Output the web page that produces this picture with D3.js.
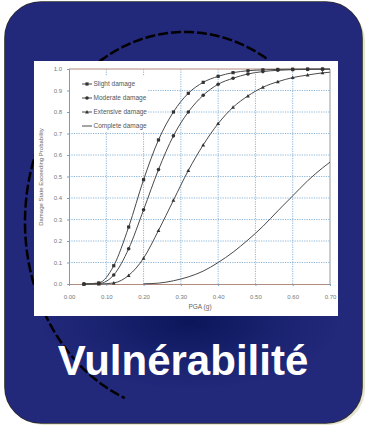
<!DOCTYPE html>
<html><head><meta charset="utf-8">
<script src="https://cdn.jsdelivr.net/npm/d3@7/dist/d3.min.js"></script>
<style>html,body{margin:0;padding:0;background:#fff;}svg{display:block;}</style>
</head><body>
<script>
const xs = [0.04,0.08,0.12,0.16,0.20,0.24,0.28,0.32,0.36,0.40,0.44,0.48,0.52,0.56,0.60,0.64,0.68,0.70];
const slight    = [0,0.005,0.085,0.265,0.485,0.67,0.80,0.887,0.938,0.966,0.983,0.992,0.996,0.998,0.999,1.0,1.0,1.0];
const moderate  = [0,0.002,0.042,0.164,0.345,0.532,0.689,0.80,0.878,0.929,0.957,0.977,0.988,0.994,0.997,0.998,0.999,0.999];
const extensive = [0,0.0,0.005,0.04,0.12,0.249,0.389,0.528,0.647,0.746,0.822,0.875,0.915,0.941,0.96,0.972,0.982,0.985];
const completeX = [0.20,0.24,0.28,0.32,0.36,0.40,0.44,0.48,0.52,0.56,0.60,0.64,0.68,0.70];
const complete  = [0.001,0.004,0.015,0.033,0.06,0.10,0.148,0.205,0.268,0.34,0.41,0.48,0.54,0.567];
const seriesNames = ["Slight damage","Moderate damage","Extensive damage","Complete damage"];
const markerTypes = ["square","circle","triangle","none"];
const xTicks = [0,0.1,0.2,0.3,0.4,0.5,0.6,0.7];
const yTicks = [0,0.1,0.2,0.3,0.4,0.5,0.6,0.7,0.8,0.9,1.0];
const title = "Vulnérabilité";

const W=366,H=425;
const svg=d3.select("body").append("svg").attr("width",W).attr("height",H);
const defs=svg.append("defs");
const rg=defs.append("radialGradient").attr("id","rg").attr("gradientUnits","userSpaceOnUse")
  .attr("cx",190).attr("cy",322).attr("r",150).attr("gradientTransform","translate(190,322) scale(1,0.45) translate(-190,-322)");
rg.append("stop").attr("offset","0").attr("stop-color","#0b165a");
rg.append("stop").attr("offset","0.6").attr("stop-color","#1a2370");
rg.append("stop").attr("offset","1").attr("stop-color","#22287a");
defs.append("clipPath").attr("id","panelclip").append("rect")
  .attr("x",5).attr("y",2).attr("width",357).attr("height",421).attr("rx",36);

// shadow + panel
svg.append("rect").attr("x",8).attr("y",5).attr("width",357).attr("height",420).attr("rx",36).attr("fill","#e6e4cf");
svg.append("rect").attr("x",5).attr("y",2).attr("width",357).attr("height",421).attr("rx",36)
  .attr("fill","#22287a").attr("stroke","#2b2b2b").attr("stroke-width",1.6);
svg.append("g").attr("clip-path","url(#panelclip)").append("rect")
  .attr("x",5).attr("y",2).attr("width",357).attr("height",421).attr("fill","url(#rg)");

// decorative dashed ellipse arc
const arc=d3.path();
const cx=185,cy=222,rx=160,ry=190;
let first=true;
for(let t=-0.33*Math.PI; t>=-1.38*Math.PI; t-=0.01){
  const px=cx+rx*Math.cos(t), py=cy+ry*Math.sin(t);
  if(first){arc.moveTo(px,py);first=false;} else arc.lineTo(px,py);
}
svg.append("path").attr("d",arc.toString()).attr("fill","none").attr("stroke","#000")
  .attr("stroke-width",2.5).attr("stroke-dasharray","10,3");

// chart panel
svg.append("rect").attr("x",34).attr("y",61).attr("width",304).attr("height",255).attr("fill","#fff");

const x=d3.scaleLinear().domain([0,0.7]).range([69,330]);
const y=d3.scaleLinear().domain([0,1]).range([284,69]);
const g=svg.append("g");

// grid
const gridColor="#6fa3cf";
g.selectAll(".vg").data(xTicks.filter(d=>d>0&&d<0.7)).enter().append("line")
  .attr("x1",d=>x(d)).attr("x2",d=>x(d)).attr("y1",y(0)).attr("y2",y(1))
  .attr("stroke",gridColor).attr("stroke-width",0.8).attr("stroke-dasharray","1.2,1.2");
g.selectAll(".hg").data(yTicks.filter(d=>d>0&&d<1)).enter().append("line")
  .attr("x1",x(0)).attr("x2",x(0.7)).attr("y1",d=>y(d)).attr("y2",d=>y(d))
  .attr("stroke",gridColor).attr("stroke-width",0.8).attr("stroke-dasharray","1.2,1.2");

// legend background
g.append("rect").attr("x",70).attr("y",76).attr("width",77).attr("height",56).attr("fill","#fff");

// axes
const axisColor="#b08a7e";
const xa=g.append("g").attr("transform",`translate(0,${y(0)})`)
  .call(d3.axisBottom(x).tickValues(xTicks).tickFormat(d3.format(".2f")).tickSize(2).tickPadding(9));
const ya=g.append("g").attr("transform",`translate(${x(0)},0)`)
  .call(d3.axisLeft(y).tickValues(yTicks).tickFormat(d3.format(".1f")).tickSize(2).tickPadding(5));
[xa,ya].forEach(a=>{
  a.select(".domain").attr("stroke",axisColor).attr("stroke-width",1);
  a.selectAll(".tick line").attr("stroke",gridColor);
  a.selectAll("text").attr("fill","#777").attr("font-size","6px").attr("font-family","Liberation Sans, Arial, sans-serif");
});
// frame top/right
g.append("line").attr("x1",x(0)).attr("x2",x(0.7)).attr("y1",y(1)).attr("y2",y(1)).attr("stroke",axisColor);
g.append("line").attr("x1",x(0.7)).attr("x2",x(0.7)).attr("y1",y(1)).attr("y2",y(0)).attr("stroke","#999");

// labels
g.append("text").attr("x",200).attr("y",309).attr("text-anchor","middle").attr("font-size","6.5px")
  .attr("fill","#666").attr("font-family","Liberation Sans, Arial, sans-serif").text("PGA (g)");
g.append("text").attr("transform","translate(43,177) rotate(-90)").attr("text-anchor","middle").attr("font-size","6px")
  .attr("fill","#666").attr("font-family","Liberation Sans, Arial, sans-serif").text("Damage State Exceeding Probability");

// curves
const lineColor="#4a4a4a";
const line=d3.line().x(d=>x(d[0])).y(d=>y(d[1])).curve(d3.curveMonotoneX);
const series=[slight,moderate,extensive].map(v=>xs.map((xx,i)=>[xx,v[i]]));
series.push(completeX.map((xx,i)=>[xx,complete[i]]));
series.forEach(s=>{
  g.append("path").attr("d",line(s)).attr("fill","none").attr("stroke",lineColor).attr("stroke-width",1);
});
function drawMarker(sel,type,px,py){
  if(type==="square"){
    sel.append("rect").attr("x",px-1.6).attr("y",py-1.6).attr("width",3.2).attr("height",3.2).attr("fill","#333");
  } else if(type==="circle"){
    sel.append("circle").attr("cx",px).attr("cy",py).attr("r",1.8).attr("fill","#333");
  } else if(type==="triangle"){
    sel.append("path").attr("d",`M${px},${py-2}L${px+1.9},${py+1.5}L${px-1.9},${py+1.5}Z`).attr("fill","#333");
  }
}
series.slice(0,3).forEach((s,k)=>{
  s.filter(d=>d[0]<0.69).forEach(d=>drawMarker(g,markerTypes[k],x(d[0]),y(d[1])));
});

// legend
seriesNames.forEach((n,i)=>{
  const ly=84+i*14;
  g.append("line").attr("x1",82).attr("x2",92).attr("y1",ly).attr("y2",ly).attr("stroke",lineColor).attr("stroke-width",1);
  drawMarker(g,markerTypes[i],87,ly);
  g.append("text").attr("x",93.5).attr("y",ly+2.2).attr("font-size","6.5px").attr("fill","#555")
    .attr("font-family","Liberation Sans, Arial, sans-serif").text(n);
});

// title
svg.append("text").attr("x",183).attr("y",375).attr("text-anchor","middle")
  .attr("font-family","Liberation Sans, Arial, sans-serif").attr("font-weight","bold")
  .attr("font-size","42px").attr("fill","#fff").text(title);
</script>
</body></html>
